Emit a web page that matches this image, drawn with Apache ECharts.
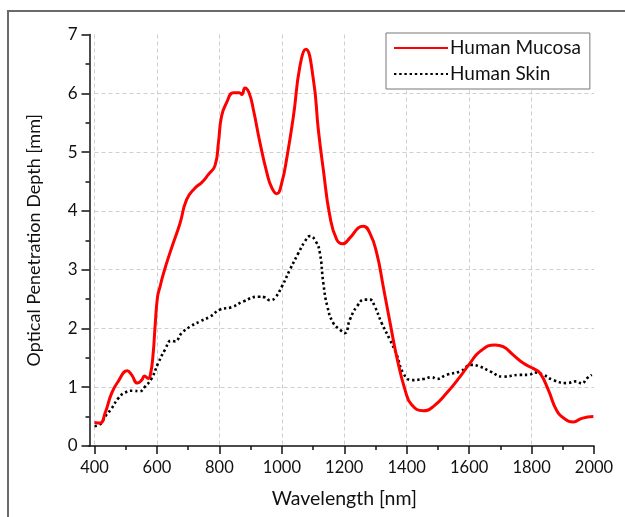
<!DOCTYPE html>
<html>
<head>
<meta charset="utf-8">
<script src="https://cdn.jsdelivr.net/npm/echarts@6/dist/echarts.min.js"></script>
<style>html,body{margin:0;padding:0;background:#fff}#c{width:625px;height:517px}</style>
</head>
<body>
<div id="c"></div>
<script>
const xTitle = 'Wavelength [nm]';
const yTitle = 'Optical Penetration Depth [mm]';
const seriesNames = ['Human Mucosa', 'Human Skin'];
const xTicks = [400, 600, 800, 1000, 1200, 1400, 1600, 1800, 2000];
const yTicks = [0, 1, 2, 3, 4, 5, 6, 7];

const mucosaX = [400,418,434,455,476,505,519,537,551,560,572,580,588,594,602,610,617,631,645,674,695,722,743,765,786,797,807,823,845,864,872,882,895,909,930,952,968,984,1000,1016,1037,1058,1077,1101,1117,1133,1154,1176,1195,1218,1245,1261,1282,1304,1325,1347,1368,1395,1416,1453,1485,1528,1571,1603,1635,1683,1709,1741,1773,1805,1827,1854,1880,1907,1934,1961,1998];
const mucosaY = [0.40,0.39,0.56,0.90,1.10,1.28,1.21,1.07,1.12,1.19,1.15,1.24,1.58,2.03,2.54,2.71,2.86,3.11,3.34,3.79,4.19,4.39,4.48,4.62,4.77,5.16,5.61,5.84,6.01,6.01,5.98,6.09,6.01,5.72,5.16,4.65,4.39,4.29,4.48,4.90,5.60,6.46,6.75,6.24,5.38,4.70,3.91,3.51,3.44,3.54,3.71,3.74,3.62,3.28,2.71,2.09,1.52,0.95,0.70,0.60,0.67,0.90,1.18,1.41,1.61,1.72,1.69,1.55,1.41,1.32,1.24,0.95,0.61,0.46,0.41,0.47,0.50];

const skinX = [400,418,434,455,476,498,524,544,562,583,604,626,645,658,679,706,738,770,802,839,877,925,946,962,978,1000,1026,1053,1074,1090,1109,1122,1133,1146,1165,1186,1202,1218,1240,1266,1282,1298,1320,1346,1368,1389,1416,1453,1480,1496,1528,1571,1608,1635,1667,1709,1763,1790,1811,1838,1870,1912,1944,1961,1977,1993];
const skinY = [0.34,0.37,0.50,0.64,0.81,0.91,0.94,0.93,1.01,1.15,1.41,1.64,1.79,1.78,1.92,2.03,2.12,2.20,2.32,2.36,2.46,2.54,2.53,2.48,2.52,2.71,3.00,3.28,3.48,3.57,3.48,3.28,2.77,2.37,2.09,1.98,1.92,2.15,2.37,2.49,2.49,2.37,2.09,1.81,1.55,1.24,1.12,1.14,1.17,1.14,1.21,1.27,1.38,1.35,1.27,1.18,1.21,1.21,1.25,1.21,1.12,1.07,1.10,1.06,1.15,1.21];

const pair = (xs, ys) => xs.map((x, i) => [x, ys[i]]);
const FONT = 'Lato';

const chart = echarts.init(document.getElementById('c'), null, {renderer: 'canvas'});
const option = {
  backgroundColor: '#fff',
  animation: false,
  textStyle: {fontFamily: FONT},
  grid: {left: 94.5, right: 31, top: 34.5, bottom: 71},
  legend: {
    orient: 'vertical', left: 386, top: 33,
    padding: [5, 9, 5, 7], itemGap: 6, itemWidth: 54, itemHeight: 14,
    borderColor: '#777', borderWidth: 1, backgroundColor: '#fff',
    itemStyle: {opacity: 0},
    textStyle: {fontFamily: FONT, fontSize: 19, color: '#111', lineHeight: 20, padding: [0, 0, 0, -3]},
    data: seriesNames
  },
  xAxis: [{
    type: 'value', min: xTicks[0], max: xTicks[xTicks.length - 1], interval: 200,
    name: xTitle, nameLocation: 'middle', nameGap: 43,
    nameTextStyle: {fontFamily: FONT, fontSize: 19.5, color: '#111'},
    axisLine: {show: true, onZero: false, lineStyle: {color: '#111', width: 1.5}},
    axisTick: {show: true, inside: false, length: 8, lineStyle: {color: '#111', width: 1.5}},
    minorTick: {show: true, splitNumber: 2, length: 4, lineStyle: {color: '#111', width: 1.5}},
    axisLabel: {fontFamily: FONT, fontSize: 16.5, color: '#111', margin: 13, formatter: v => String(v)},
    splitLine: {show: true, showMaxLine: false, lineStyle: {color: '#cfcfcf', type: [4, 3], width: 1}}
  }],
  yAxis: [{
    type: 'value', min: yTicks[0], max: yTicks[yTicks.length - 1], interval: 1, offset: 5,
    name: yTitle, nameLocation: 'middle', nameGap: 46, nameRotate: 90,
    nameTextStyle: {fontFamily: FONT, fontSize: 18, color: '#111'},
    axisLine: {show: true, onZero: false, lineStyle: {color: '#111', width: 1.5}},
    axisTick: {show: true, inside: false, length: 8, lineStyle: {color: '#111', width: 1.5}},
    minorTick: {show: true, splitNumber: 2, length: 4, lineStyle: {color: '#111', width: 1.5}},
    axisLabel: {fontFamily: FONT, fontSize: 17, color: '#111', margin: 12},
    splitLine: {show: true, showMinLine: false, showMaxLine: false, lineStyle: {color: '#cfcfcf', type: [4, 3], width: 1}}
  }],
  series: [
    {
      name: seriesNames[0], type: 'line', data: pair(mucosaX, mucosaY),
      showSymbol: false, symbol: 'none', smooth: 0.5,
      lineStyle: {color: '#ff0000', width: 3}, itemStyle: {color: '#ff0000'}, z: 3
    },
    {
      name: seriesNames[1], type: 'line', data: pair(skinX, skinY),
      showSymbol: false, symbol: 'none', smooth: 0.5,
      lineStyle: {color: '#000', width: 2.6, type: [2.4, 2.8], cap: 'butt'}, itemStyle: {color: '#000'}, z: 2
    }
  ]
};
chart.setOption(option);

// frame around the figure and the small extension of the x axis line to the y axis
const p0 = chart.convertToPixel({xAxisIndex: 0, yAxisIndex: 0}, [xTicks[0], yTicks[0]]);
chart.setOption({
  graphic: [
    {type: 'rect', shape: {x: 8, y: 11, width: 700, height: 600}, style: {fill: null, stroke: '#6a6a6a', lineWidth: 2}, silent: true, z: 0},
    {type: 'line', shape: {x1: p0[0] - 6, y1: p0[1], x2: p0[0], y2: p0[1]}, style: {stroke: '#111', lineWidth: 1.5}, silent: true, z: 10}
  ]
});
</script>
</body>
</html>
